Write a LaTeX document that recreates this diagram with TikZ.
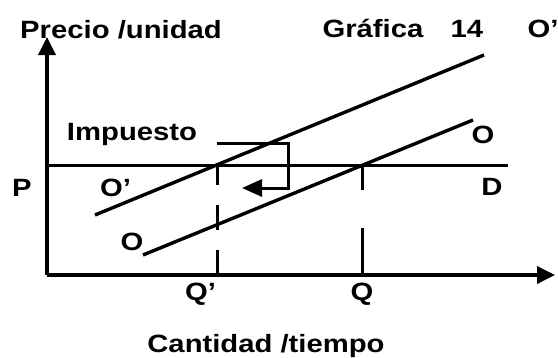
\documentclass[tikz,border=0pt]{standalone}
\usepackage{fontspec}
\setmainfont{Liberation Sans}[FakeStretch=1.17,UprightFont=*-Bold]
\usetikzlibrary{arrows.meta}
\begin{document}
\begin{tikzpicture}[x=1pt,y=-1pt,
  font=\fontsize{25}{29}\selectfont,
  lbl/.style={anchor=base, inner sep=0pt},
  lblw/.style={anchor=base west, inner sep=0pt},
  axis/.style={line width=3.6pt, -{Triangle[length=18pt,width=17pt]}},
  supply/.style={line width=3.4pt},
  guide/.style={line width=3pt},
  taxarrow/.style={line width=3pt, -{Triangle[length=20pt,width=17pt]}}]
\useasboundingbox (0,0) rectangle (558,357);
% axes
\coordinate (origin) at (47,275);
\coordinate (ytop) at (47,37);
\coordinate (xend) at (555,275);
\draw[axis] (origin) -- (ytop);
\draw[axis] (origin) -- (xend);
% price line
\coordinate (pl) at (47,165);
\coordinate (pr) at (508,165);
\draw[guide] (pl) -- (pr);
% supply curves
\coordinate (s1a) at (95,215);
\coordinate (s1b) at (484,55);
\coordinate (s0a) at (143,255);
\coordinate (s0b) at (473,120);
\draw[supply] (s1a) -- (s1b);
\draw[supply] (s0a) -- (s0b);
% quantity guides
\coordinate (qpb) at (217,275);
\coordinate (qpt) at (217,163);
\draw[guide, dash pattern=on 25pt off 20pt] (qpb) -- (qpt);
\coordinate (qb) at (362,275);
\coordinate (qt) at (362,165);
\draw[guide, dash pattern=on 47pt off 38pt] (qb) -- (qt);
% tax bracket
\coordinate (ta) at (217,143);
\coordinate (tc) at (288,188);
\coordinate (te) at (242,188);
\draw[taxarrow] (ta) -| (tc) -- (te);
% labels
\node[lbl] (ylab) at (121,38) {Precio /unidad};
\node[lbl] (title) at (373,37) {Gráfica};
\node[lbl] (num) at (467,37) {14};
\node[lbl] (o1top) at (543,37) {O'};
\node[lbl] (imp) at (132,140) {Impuesto};
\node[lbl] (plab) at (22,196) {P};
\node[lblw] (o1low) at (100,196) {O'};
\node[lbl] (dlab) at (492,195) {D};
\node[lbl] (o0low) at (132,250) {O};
\node[lbl] (o0top) at (483,143) {O};
\node[lblw] (qplab) at (185,300) {Q'};
\node[lbl] (qlab) at (362,300) {Q};
\node[lbl] (xlab) at (266,352) {Cantidad /tiempo};
\end{tikzpicture}
\end{document}
